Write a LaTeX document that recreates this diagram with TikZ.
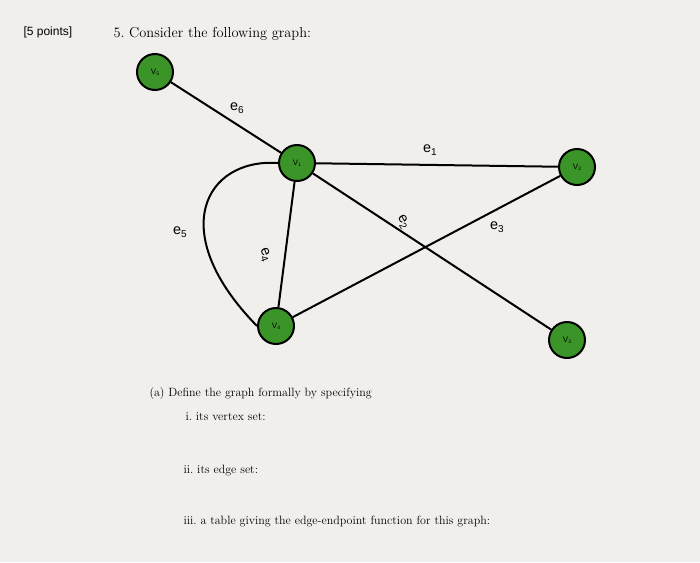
\documentclass[tikz,border=0pt]{standalone}
\usepackage{fontspec}
\newfontfamily\sansf{Liberation Sans}
\definecolor{bg}{RGB}{240,239,235}
\definecolor{vgreen}{RGB}{58,148,40}
\newcommand{\elabtxt}[1]{e\raisebox{-3pt}{\normalsize #1}}
\begin{document}
\begin{tikzpicture}[x=1pt,y=-1pt,
 vert/.style={circle,draw=black,line width=2pt,fill=vgreen,minimum size=36pt,inner sep=0pt,font=\sansf\footnotesize},
 edge/.style={line width=2pt},
 elab/.style={font=\sansf\Large,inner sep=1pt},
 txt/.style={anchor=west,font=\large}]
\fill[bg] (0,0) rectangle (700,562);
\useasboundingbox (0,0) rectangle (700,562);
\node[anchor=west,font=\sansf\large] (pts) at (20,32) {[5 points]};
\node[anchor=west,font=\Large] (q) at (110,34) {5.\ Consider the following graph:};
\node[vert] (v5) at (155,72) {V\raisebox{-1pt}{\tiny 5}};
\node[vert] (v1) at (297,163) {V\raisebox{-1pt}{\tiny 1}};
\node[vert] (v2) at (577,167) {V\raisebox{-1pt}{\tiny 2}};
\node[vert] (v4) at (276,326) {V\raisebox{-1pt}{\tiny 4}};
\node[vert] (v3) at (567,340) {V\raisebox{-1pt}{\tiny 3}};
\draw[edge] (v5) -- (v1);
\draw[edge] (v1) -- (v2);
\draw[edge] (v1) -- (v3);
\draw[edge] (v2) -- (v4);
\draw[edge] (v1) -- (v4);
\draw[edge] (v1.west) .. controls (205,158) and (165,232) .. (v4.west);
\node[elab] (e6) at (237,108) {\elabtxt{6}};
\node[elab] (e1) at (430,150) {\elabtxt{1}};
\node[elab,rotate=-60] (e2) at (403,222) {\elabtxt{2}};
\node[elab] (e3) at (497,227) {\elabtxt{3}};
\node[elab,rotate=-70] (e4) at (265,255) {\elabtxt{4}};
\node[elab] (e5) at (180,232) {\elabtxt{5}};
\node[txt] (a) at (146,393) {(a) Define the graph formally by specifying};
\node[txt] (i) at (182,417) {i.\ its vertex set:};
\node[txt] (ii) at (180,471) {ii.\ its edge set:};
\node[txt] (iii) at (180,521) {iii.\ a table giving the edge-endpoint function for this graph:};
\end{tikzpicture}
\end{document}
